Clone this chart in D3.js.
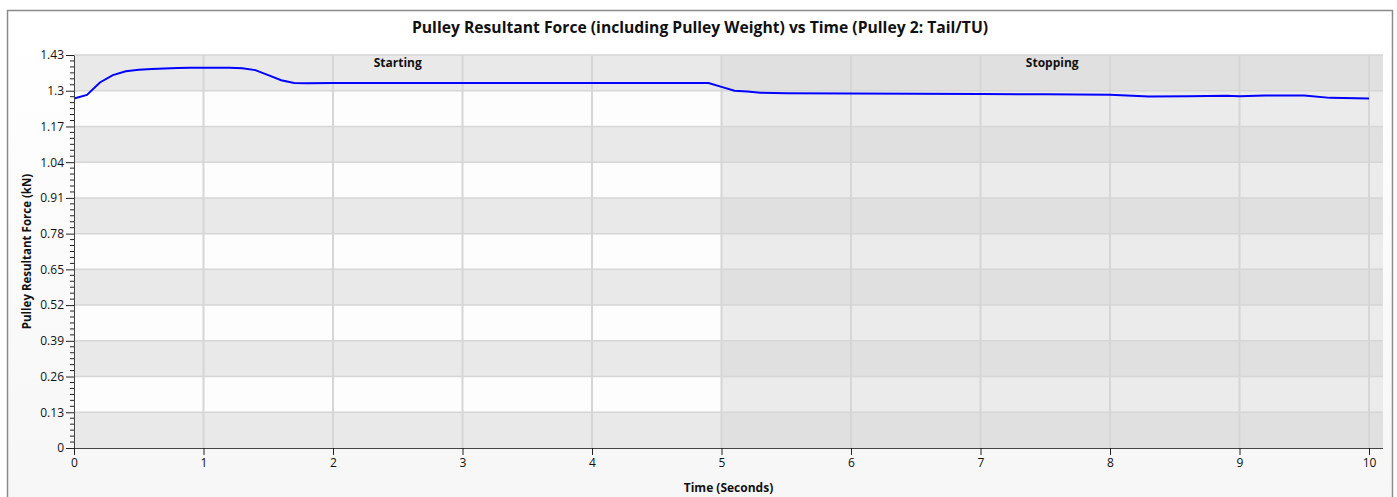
<!DOCTYPE html>
<html>
<head>
  <meta charset="utf-8">
  <title>Pulley Resultant Force vs Time</title>
  <script src="https://d3js.org/d3.v7.min.js"></script>
  <style>
    body { margin: 0; background: #fff; }
    text { font-family: "Open Sans", "Noto Sans", sans-serif; fill: #111; }
    .tick-label { font-size: 12px; }
    .bold { font-weight: bold; }
  </style>
</head>
<body>
  <svg width="1397" height="497"></svg>
  <script>
    // Data
    const times  = [0, 0.1, 0.2, 0.3, 0.4, 0.5, 0.6, 0.7, 0.8, 0.9, 1.0, 1.1, 1.2, 1.3, 1.4, 1.5, 1.6, 1.7, 1.8, 2.0, 3.0, 4.0, 4.9, 5.0, 5.1, 5.2, 5.3, 5.5, 6.0, 6.5, 7.0, 7.5, 8.0, 8.3, 8.6, 8.9, 9.0, 9.2, 9.5, 9.7, 10.0];
    const forces = [1.272, 1.285, 1.330, 1.357, 1.371, 1.376, 1.379, 1.381, 1.383, 1.384, 1.384, 1.384, 1.384, 1.382, 1.375, 1.357, 1.338, 1.328, 1.327, 1.328, 1.328, 1.328, 1.328, 1.314, 1.300, 1.297, 1.293, 1.291, 1.290, 1.289, 1.288, 1.287, 1.285, 1.279, 1.280, 1.282, 1.280, 1.283, 1.283, 1.274, 1.272];

    const yTicks = [0, 0.13, 0.26, 0.39, 0.52, 0.65, 0.78, 0.91, 1.04, 1.17, 1.3, 1.43];
    const xTicks = [0, 1, 2, 3, 4, 5, 6, 7, 8, 9, 10];
    const phases = [
      { name: "Starting", from: 0, to: 5 },
      { name: "Stopping", from: 5, to: 10 }
    ];

    const svg = d3.select("svg");
    const mLeft = 74, mRight = 1369, plotRight = 1383, mTop = 55, mBottom = 448;

    const x = d3.scaleLinear().domain([0, 10]).range([mLeft, mRight]);
    const y = d3.scaleLinear().domain([0, 1.43]).range([mBottom, mTop]);

    // outer frame with soft gradient
    const grad = svg.append("defs").append("linearGradient")
      .attr("id", "bg").attr("x1", 0).attr("y1", 0).attr("x2", 0).attr("y2", 1);
    grad.append("stop").attr("offset", "0%").attr("stop-color", "#ffffff");
    grad.append("stop").attr("offset", "100%").attr("stop-color", "#f6f6f6");
    svg.append("rect")
      .attr("x", 7.5).attr("y", 10.5).attr("width", 1385).attr("height", 500)
      .attr("fill", "url(#bg)").attr("stroke", "#8a8a8a").attr("stroke-width", 1.5);

    // alternating bands, coloured per phase
    const bandColors = {
      Starting: ["#e9e9e9", "#fdfdfd"],
      Stopping: ["#e0e0e0", "#ebebeb"]
    };
    const bands = [];
    phases.forEach(p => {
      const x0 = x(p.from), x1 = p.name === "Stopping" ? plotRight : x(p.to);
      for (let i = 0; i < yTicks.length - 1; i++) bands.push({ p: p.name, i, x0, x1 });
    });
    svg.append("g").selectAll("rect")
      .data(bands).enter().append("rect")
      .attr("x", d => d.x0).attr("width", d => d.x1 - d.x0)
      .attr("y", d => y(yTicks[d.i + 1]))
      .attr("height", d => y(yTicks[d.i]) - y(yTicks[d.i + 1]))
      .attr("fill", d => bandColors[d.p][d.i % 2]);

    // grid lines
    svg.append("g").selectAll("line")
      .data(yTicks.slice(1)).enter().append("line")
      .attr("x1", mLeft).attr("x2", plotRight)
      .attr("y1", d => y(d)).attr("y2", d => y(d))
      .attr("stroke", "#d6d6d6").attr("stroke-width", 1.5);
    svg.append("g").selectAll("line")
      .data(xTicks.slice(1)).enter().append("line")
      .attr("x1", d => x(d)).attr("x2", d => x(d))
      .attr("y1", mTop).attr("y2", mBottom)
      .attr("stroke", "#d6d6d6").attr("stroke-width", 2);

    // phase labels
    svg.append("g").selectAll("text")
      .data(phases).enter().append("text")
      .attr("class", "bold")
      .attr("x", d => d.name === "Stopping" ? (x(d.from) + plotRight) / 2 : (x(d.from) + x(d.to)) / 2)
      .attr("y", 67)
      .attr("text-anchor", "middle")
      .attr("font-size", 12)
      .text(d => d.name);

    // data line
    svg.append("path")
      .datum(times.map((t, i) => [t, forces[i]]))
      .attr("fill", "none")
      .attr("stroke", "#0000ff")
      .attr("stroke-width", 2)
      .attr("d", d3.line().x(d => x(d[0])).y(d => y(d[1])));

    // y axis
    const yAxis = d3.axisLeft(y).tickValues(yTicks).tickSize(8).tickSizeOuter(0)
      .tickFormat(d => d3.format("~g")(d));
    const yG = svg.append("g").attr("transform", `translate(${mLeft},0)`).call(yAxis);
    yG.select(".domain").attr("stroke", "#444");
    yG.selectAll(".tick line").attr("stroke", "#222");
    yG.selectAll(".tick text").attr("class", "tick-label").attr("x", -10).attr("fill", "#222");
    // minor ticks
    const minor = [];
    for (let i = 0; i < yTicks.length - 1; i++)
      for (let k = 1; k < 6; k++) minor.push(yTicks[i] + (yTicks[i + 1] - yTicks[i]) * k / 6);
    svg.append("g").selectAll("line")
      .data(minor).enter().append("line")
      .attr("x1", mLeft - 4).attr("x2", mLeft)
      .attr("y1", d => y(d)).attr("y2", d => y(d))
      .attr("stroke", "#222");

    // x axis
    const xAxis = d3.axisBottom(x).tickValues(xTicks).tickSize(7).tickSizeOuter(0);
    const xG = svg.append("g").attr("transform", `translate(0,${mBottom})`).call(xAxis);
    xG.select(".domain").attr("stroke", "#444").attr("d", `M${mLeft},0.5H${plotRight}`);
    xG.selectAll(".tick line").attr("stroke", "#222");
    xG.selectAll(".tick text").attr("class", "tick-label").attr("y", 10).attr("fill", "#222");

    // titles
    svg.append("text").attr("class", "bold")
      .attr("x", 700).attr("y", 33).attr("text-anchor", "middle").attr("font-size", 15.7)
      .text("Pulley Resultant Force (including Pulley Weight) vs Time (Pulley 2: Tail/TU)");
    svg.append("text").attr("class", "bold")
      .attr("x", x(5) + 7).attr("y", 492).attr("text-anchor", "middle").attr("font-size", 12)
      .text("Time (Seconds)");
    svg.append("text").attr("class", "bold")
      .attr("transform", `translate(31,${(mTop + mBottom) / 2}) rotate(-90)`)
      .attr("text-anchor", "middle").attr("font-size", 11.5)
      .text("Pulley Resultant Force (kN)");
  </script>
</body>
</html>
